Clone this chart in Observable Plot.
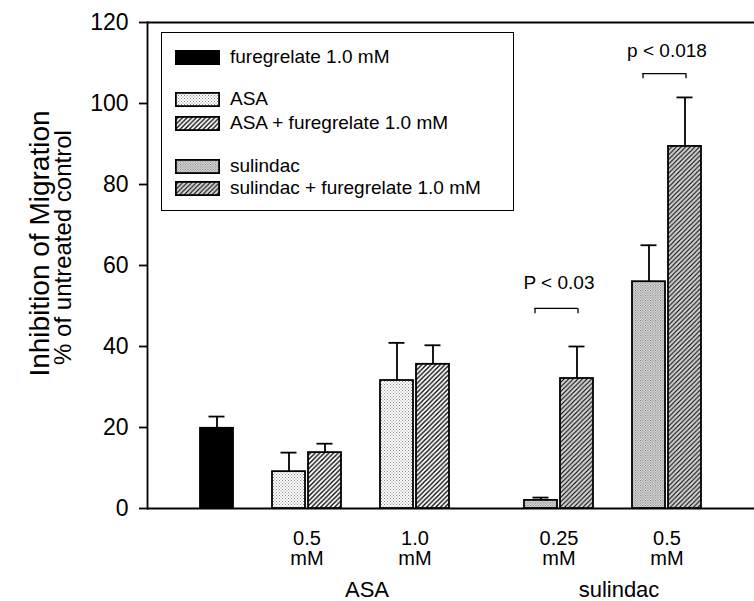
<!DOCTYPE html>
<html>
<head>
<meta charset="utf-8">
<script src="https://cdn.jsdelivr.net/npm/d3@7"></script>
<script src="https://cdn.jsdelivr.net/npm/@observablehq/plot@0.6"></script>
<style>
  html, body { margin: 0; padding: 0; background: #fff; }
  #wrap { position: relative; width: 754px; height: 601px; font-family: "Liberation Sans", Arial, sans-serif; }
  #legend { position: absolute; left: 161px; top: 32px; width: 353px; height: 179px; box-sizing: border-box; border: 1.5px solid #000; background: #fff; }
  .row { position: absolute; left: 0; height: 16px; display: flex; align-items: center; }
  .row svg { margin-left: 13px; }
  .row span { margin-left: 10px; font-size: 19px; line-height: 16px; white-space: nowrap; }
</style>
</head>
<body>
<div id="wrap"></div>
<script>
// ---------- data ----------
const slots = ["fur", "gapA", "asa05", "asaf05", "gapB", "asa1", "asaf1", "gapC", "gapD", "sul025", "sulf025", "gapE", "sul05", "sulf05"];
const seriesNames = ["furegrelate 1.0 mM", "ASA", "ASA + furegrelate 1.0 mM", "sulindac", "sulindac + furegrelate 1.0 mM"];
const seriesFills = ["#000000", "url(#dotlight)", "url(#hatchlight)", "url(#dotdark)", "url(#hatchdark)"];

const barSlots  = ["fur", "asa05", "asaf05", "asa1", "asaf1", "sul025", "sulf025", "sul05", "sulf05"];
const barSeries = ["furegrelate 1.0 mM", "ASA", "ASA + furegrelate 1.0 mM", "ASA", "ASA + furegrelate 1.0 mM",
                   "sulindac", "sulindac + furegrelate 1.0 mM", "sulindac", "sulindac + furegrelate 1.0 mM"];
const barValues  = [19.8, 9.1, 13.8, 31.6, 35.6, 2.0, 32.1, 56.0, 89.4];
const barErrTops = [22.7, 13.8, 16.0, 40.9, 40.3, 2.7, 40.0, 65.0, 101.5];

const yTicks = [0, 20, 40, 60, 80, 100, 120];

const doseSlots  = ["asa05", "asa1", "sul025", "sul05"];
const doseLabels = ["0.5\nmM", "1.0\nmM", "0.25\nmM", "0.5\nmM"];

const groupSlots  = ["gapB", "gapE"];
const groupLabels = ["ASA", "sulindac"];

const bracketFrom  = ["sul025", "sul05"];
const bracketTo    = ["sulf025", "sulf05"];
const bracketY     = [49.4, 107.4];
const bracketDrop  = [1.3, 1.3];
const bracketLabel = ["P < 0.03", "p < 0.018"];
const bracketTextY = [54.1, 111.4];

// ---------- tables ----------
const bars = barSlots.map((s, i) => ({slot: s, series: barSeries[i], value: barValues[i], err: barErrTops[i]}));
const doses = doseSlots.map((s, i) => ({slot: s, label: doseLabels[i]}));
const groups = groupSlots.map((s, i) => ({slot: s, label: groupLabels[i]}));
const brackets = bracketFrom.map((f, i) => ({from: f, to: bracketTo[i], y: bracketY[i], y0: bracketY[i] - bracketDrop[i], label: bracketLabel[i], ty: bracketTextY[i]}));

const font = "Liberation Sans, Arial, sans-serif";
const sw = 1.8;

const chart = Plot.plot({
  width: 754,
  height: 601,
  marginLeft: 147,
  marginRight: 0,
  marginTop: 22,
  marginBottom: 93,
  style: {fontFamily: font, fontSize: "22px", background: "#fff", color: "#000", overflow: "visible"},
  x: {domain: slots, type: "band", paddingInner: 0.085, paddingOuter: 1.46, axis: null},
  y: {domain: [0, 120], axis: null},
  color: {type: "ordinal", domain: seriesNames, range: seriesFills},
  marks: [
    Plot.axisY(yTicks, {anchor: "left", tickSize: 8, tickPadding: 11, fontSize: 23, label: null, strokeWidth: sw, tickFormat: d => String(d)}),
    Plot.ruleY([0, 120], {strokeWidth: sw}),
    Plot.frame({anchor: "left", strokeWidth: sw}),
    // error bars (upper only)
    Plot.ruleX(bars, {x: "slot", y1: "value", y2: "err", strokeWidth: sw}),
    Plot.tickY(bars, {x: "slot", y: "err", insetLeft: 8.5, insetRight: 8.5, strokeWidth: sw}),
    // bars
    Plot.barY(bars, {x: "slot", y: "value", fill: "series", stroke: "#000", strokeWidth: sw}),
    // significance brackets
    Plot.ruleY(brackets, {x1: "from", x2: "to", y: "y", insetLeft: 10.5, insetRight: 15.5, strokeWidth: 1.3}),
    Plot.ruleX(brackets, {x: "from", y1: "y", y2: "y0", dx: -6, strokeWidth: 1.3}),
    Plot.ruleX(brackets, {x: "to", y1: "y", y2: "y0", dx: 1, strokeWidth: 1.3}),
    Plot.text(brackets, {x: "from", y: "ty", text: "label", dx: 18, lineAnchor: "bottom", fontSize: 19}),
    // dose labels
    Plot.text(doses, {x: "slot", text: "label", frameAnchor: "bottom", lineAnchor: "top", dx: 18, dy: 22, fontSize: 20, lineHeight: 1.0}),
    // group labels
    Plot.text(groups, {x: "slot", text: "label", frameAnchor: "bottom", lineAnchor: "top", dx: 6, dy: 73, fontSize: 22}),
    // y axis titles
    Plot.text(["Inhibition of Migration"], {text: d => d, frameAnchor: "left", textAnchor: "middle", rotate: -90, lineAnchor: "bottom", dx: -99, dy: -22, fontSize: 28}),
    Plot.text(["% of untreated control"], {text: d => d, frameAnchor: "left", textAnchor: "middle", rotate: -90, lineAnchor: "bottom", dx: -77, dy: -18, fontSize: 24})
  ]
});

// patterns
const defs = d3.select(chart).insert("defs", ":first-child");
function dotPattern(id, bg, dot, size) {
  const p = defs.append("pattern").attr("id", id).attr("patternUnits", "userSpaceOnUse").attr("width", size).attr("height", size);
  p.append("rect").attr("width", size).attr("height", size).attr("fill", bg);
  p.append("rect").attr("x", 0).attr("y", 0).attr("width", 1).attr("height", 1).attr("fill", dot);
  p.append("rect").attr("x", size / 2).attr("y", size / 2).attr("width", 1).attr("height", 1).attr("fill", dot);
}
function hatchPattern(id, bg, w) {
  const s = 4.6;
  const p = defs.append("pattern").attr("id", id).attr("patternUnits", "userSpaceOnUse").attr("width", s).attr("height", s);
  p.append("rect").attr("width", s).attr("height", s).attr("fill", bg);
  p.append("path").attr("d", `M0,${s} L${s},0 M${-s / 2},${s / 2} L${s / 2},${-s / 2} M${s / 2},${s * 1.5} L${s * 1.5},${s / 2}`)
    .attr("stroke", "#000").attr("stroke-width", w);
}
dotPattern("dotlight", "#ffffff", "#8a8a8a", 3);
dotPattern("dotdark", "#e8e8e8", "#666666", 2.5);
hatchPattern("hatchlight", "#ffffff", 1.3);
hatchPattern("hatchdark", "#d4d4d4", 1.1);

const wrap = document.getElementById("wrap");
wrap.appendChild(chart);

// legend (inside the plot frame)
const legendRowsTop = [16, 58, 82, 125, 147];
const legend = document.createElement("div");
legend.id = "legend";
seriesNames.forEach((name, i) => {
  const row = document.createElement("div");
  row.className = "row";
  row.style.top = legendRowsTop[i] + "px";
  row.innerHTML = `<svg width="45" height="15"><rect x="0.9" y="0.9" width="43.2" height="13.2" fill="${seriesFills[i]}" stroke="#000" stroke-width="1.8"/></svg><span>${name}</span>`;
  legend.appendChild(row);
});
wrap.appendChild(legend);
</script>
</body>
</html>
